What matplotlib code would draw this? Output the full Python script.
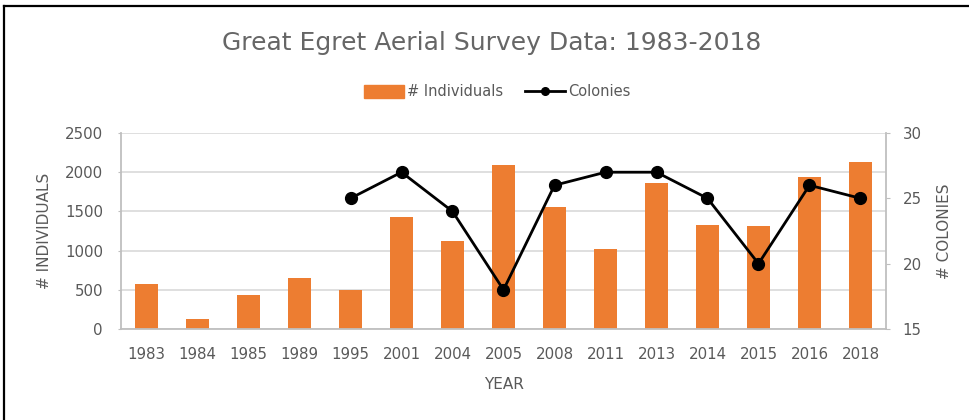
import matplotlib
matplotlib.use("Agg")
import matplotlib.pyplot as plt
from matplotlib.lines import Line2D
import numpy as np

plt.rcParams["font.family"] = ["DejaVu Sans"]

years = ["1983", "1984", "1985", "1989", "1995", "2001", "2004", "2005",
         "2008", "2011", "2013", "2014", "2015", "2016", "2018"]
individuals = [580, 130, 430, 650, 500, 1430, 1120, 2090,
               1550, 1020, 1860, 1330, 1315, 1935, 2130]
colonies = [np.nan, np.nan, np.nan, np.nan, 25, 27, 24, 18,
            26, 27, 27, 25, 20, 26, 25]

GRAY = "#595959"
ORANGE = "#ED7D31"
FS = 10.8

fig = plt.figure(figsize=(9.69, 4.2), dpi=100)
ax = fig.add_axes([121 / 969, 1 - 329 / 420, (886 - 121) / 969, (329 - 133) / 420])
ax2 = ax.twinx()

x = np.arange(len(years))
ax.bar(x, individuals, width=0.45, color=ORANGE, zorder=2, label="# Individuals")
ax2.plot(x, colonies, color="black", linewidth=2, marker="o", markersize=8.5,
         zorder=3, label="Colonies")

ax.set_xlim(-0.5, len(years) - 0.5)
ax.set_ylim(0, 2500)
ax.set_yticks(range(0, 2501, 500))
ax2.set_ylim(15, 30)
ax2.set_yticks([15, 20, 25, 30])
ax.grid(axis="y", color="#D9D9D9", linewidth=1.2, zorder=0)
ax.set_axisbelow(True)
ax.set_xticks(x)
ax.set_xticklabels(years)

for a in (ax, ax2):
    for s in a.spines.values():
        s.set_visible(False)
    a.tick_params(colors=GRAY, labelsize=FS)
ax.spines["left"].set_visible(True)
ax.spines["bottom"].set_visible(True)
ax2.spines["right"].set_visible(True)
for s in (ax.spines["left"], ax.spines["bottom"], ax2.spines["right"]):
    s.set_color("#BFBFBF")
    s.set_linewidth(1.3)
ax.tick_params(axis="x", length=0, pad=13)
ax.tick_params(axis="y", length=2, color="#BFBFBF", pad=11)
ax2.tick_params(axis="y", length=3, color="#BFBFBF", pad=9)

ax.set_ylabel("# INDIVIDUALS", color=GRAY, fontsize=11, labelpad=9)
ax2.set_ylabel("# COLONIES", color=GRAY, fontsize=11, labelpad=11)
ax.set_xlabel("YEAR", color=GRAY, fontsize=11, labelpad=11)

fig.text(492 / 969, 1 - 43 / 420, "Great Egret Aerial Survey Data: 1983-2018",
         ha="center", va="center", color="#666666", fontsize=18)

handles = [plt.Rectangle((0, 0), 1, 1, color=ORANGE),
           Line2D([], [], color="black", linewidth=2, marker="o", markersize=5.5)]
fig.legend(handles, ["# Individuals", "Colonies"], loc="center",
           bbox_to_anchor=(497 / 969, 1 - 92 / 420), ncol=2, frameon=False,
           fontsize=10.5, labelcolor=GRAY, handlelength=2.75, columnspacing=1.5,
           handletextpad=0.2, handleheight=0.9)

# page frame (left and top edges)
fig.add_artist(Line2D([4 / 969, 4 / 969], [0, 1 - 6 / 420], color="black",
                      linewidth=1.6, transform=fig.transFigure))
fig.add_artist(Line2D([4 / 969, 1], [1 - 6 / 420, 1 - 6 / 420], color="black",
                      linewidth=1.6, transform=fig.transFigure))

fig.savefig("out.png", dpi=100)
